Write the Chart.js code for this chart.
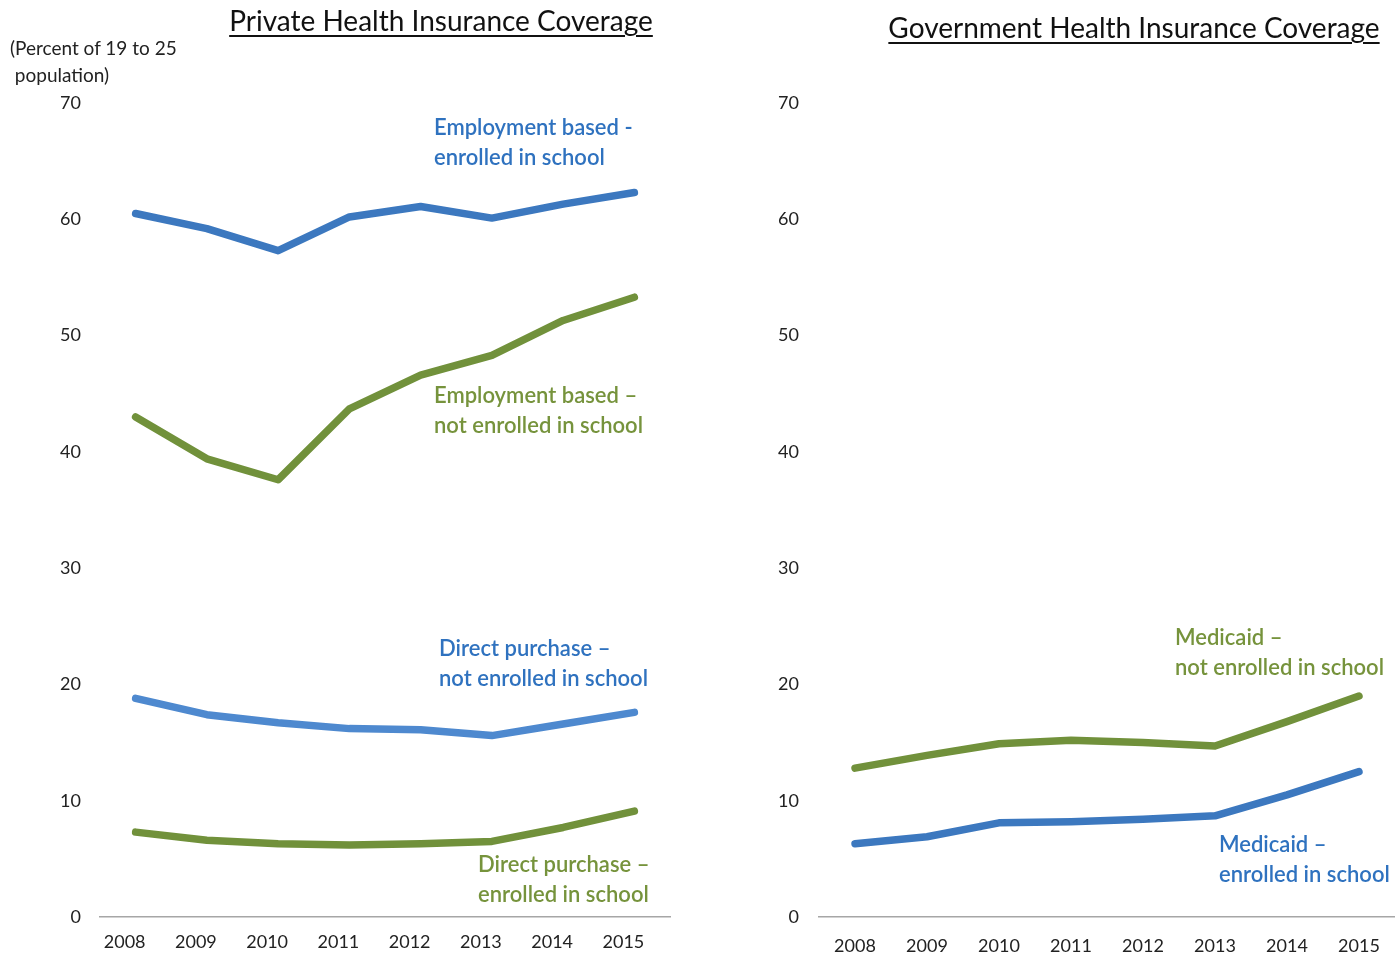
<!DOCTYPE html>
<html lang="en">
<head>
  <meta charset="UTF-8">
  <title>Health Insurance Coverage, 19 to 25</title>
  <script src="https://cdn.jsdelivr.net/npm/chart.js"></script>
  <style>
    body { margin: 0; background: #fff; font-family: Lato, "Open Sans", sans-serif; }
    #wrap { position: relative; width: 1398px; height: 959px; overflow: hidden; }
    .box { position: absolute; top: 0; height: 959px; }
    .title { position: absolute; font-size: 28px; color: #111; text-decoration: underline; text-decoration-thickness: 2px; text-underline-offset: 4px; white-space: nowrap; transform: translateX(-50%); line-height: 30px; }
    .note { position: absolute; font-size: 22px; font-weight: 600; line-height: 30px; white-space: nowrap; }
    .blue { color: #2f72bf; }
    .green { color: #76933c; }
    #ytitle { position: absolute; left: 10px; top: 34px; font-size: 19px; line-height: 27px; color: #222; white-space: pre; }
  </style>
</head>
<body>
<div id="wrap">
  <div class="box" style="left:0;width:700px"><canvas id="privateChart"></canvas></div>
  <div class="box" style="left:720px;width:678px"><canvas id="govChart"></canvas></div>

  <div class="title" style="left:441px;top:5px">Private Health Insurance Coverage</div>
  <div class="title" style="left:1134px;top:12px">Government Health Insurance Coverage</div>
  <div id="ytitle">(Percent of 19 to 25
 population)</div>

  <div class="note blue" style="left:434px;top:112px">Employment based -<br>enrolled in school</div>
  <div class="note green" style="left:434px;top:380px">Employment based –<br>not enrolled in school</div>
  <div class="note blue" style="left:439px;top:633px">Direct purchase –<br>not enrolled in school</div>
  <div class="note green" style="left:478px;top:849px">Direct purchase –<br>enrolled in school</div>
  <div class="note green" style="left:1175px;top:622px">Medicaid –<br>not enrolled in school</div>
  <div class="note blue" style="left:1219px;top:829px">Medicaid –<br>enrolled in school</div>
</div>

<script>
  // years on the category axis
  const years = ['2008', '2009', '2010', '2011', '2012', '2013', '2014', '2015'];

  // private coverage (percent of 19 to 25 population)
  const empEnrolled = [60.5, 59.2, 57.3, 60.2, 61.1, 60.1, 61.3, 62.3];
  const empNotEnrolled = [43.0, 39.4, 37.6, 43.7, 46.6, 48.3, 51.3, 53.3];
  const directNotEnrolled = [18.8, 17.4, 16.7, 16.2, 16.1, 15.6, 16.6, 17.6];
  const directEnrolled = [7.3, 6.6, 6.3, 6.2, 6.3, 6.5, 7.7, 9.1];

  // government coverage
  const medicaidNotEnrolled = [12.8, 13.9, 14.9, 15.2, 15.0, 14.7, 16.8, 19.0];
  const medicaidEnrolled = [6.3, 6.9, 8.1, 8.2, 8.4, 8.7, 10.5, 12.5];

  const yTicks = [0, 10, 20, 30, 40, 50, 60, 70];

  const BLUE = '#3c78bf';
  const LIGHT_BLUE = '#4e89cf';
  const GREEN = '#71913b';

  function line(data, color) {
    return {
      data: data,
      borderColor: color,
      borderWidth: 7.5,
      pointRadius: 0,
      tension: 0,
      borderCapStyle: 'round',
      borderJoinStyle: 'round',
      fill: false
    };
  }

  function makeChart(id, datasets, opts) {
    const ctx = document.getElementById(id).getContext('2d');
    return new Chart(ctx, {
      type: 'line',
      data: { labels: years, datasets: datasets },
      options: {
        responsive: true,
        maintainAspectRatio: false,
        animation: false,
        layout: { padding: { top: 103, right: opts.padRight, bottom: 0, left: 0 } },
        plugins: { legend: { display: false }, tooltip: { enabled: false } },
        scales: {
          x: {
            offset: true,
            grid: { display: false, drawTicks: false },
            border: { display: true, color: '#a6a6a6', width: 1.5 },
            ticks: {
              color: '#222',
              font: { family: 'Lato', size: 18 },
              padding: opts.xPad,
              labelOffset: opts.labelOffset,
              maxRotation: 0
            },
            afterFit: (s) => { s.height = 42; }
          },
          y: {
            min: 0,
            max: 70,
            afterBuildTicks: (s) => { s.ticks = yTicks.map(v => ({ value: v })); },
            grid: { display: false, drawTicks: false },
            border: { display: false },
            ticks: {
              color: '#222',
              font: { family: 'Lato', size: 18 },
              padding: opts.yPad
            },
            afterFit: (s) => { s.width = opts.yWidth; }
          }
        }
      }
    });
  }

  makeChart('privateChart', [
    line(empEnrolled, BLUE),
    line(empNotEnrolled, GREEN),
    line(directNotEnrolled, LIGHT_BLUE),
    line(directEnrolled, GREEN)
  ], { padRight: 30, yWidth: 100, yPad: 19, xPad: 14, labelOffset: -11 });

  makeChart('govChart', [
    line(medicaidNotEnrolled, GREEN),
    line(medicaidEnrolled, BLUE)
  ], { padRight: 2, yWidth: 99, yPad: 20, xPad: 18, labelOffset: 0 });
</script>
</body>
</html>
